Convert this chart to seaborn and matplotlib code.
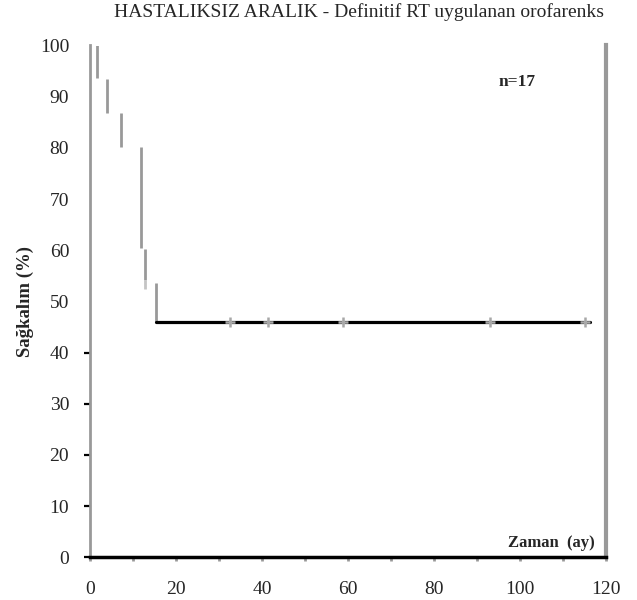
import matplotlib
matplotlib.use("Agg")
import matplotlib.pyplot as plt
import seaborn as sns
import pandas as pd

# ---- data ----
title = "HASTALIKSIZ ARALIK - Definitif RT uygulanan orofarenks"
ylabel = "Sağkalım (%)"
xlabel = "Zaman  (ay)"
n_label = "n=17"

drop_time = [1.6, 4.0, 7.3, 11.9, 12.8, 15.3]
drop_top = [100.0, 93.5, 86.8, 80.2, 60.2, 53.6]
drop_bottom = [93.6, 86.9, 80.2, 60.4, 54.2, 46.0]

tick_time = [12.8]
tick_top = [54.2]
tick_bottom = [52.4]

plateau_time = [15.3, 116.3]
plateau_surv = [46.0, 46.0]

censor_time = [32.6, 41.3, 58.8, 93.0, 115.1]
censor_surv = [46.0, 46.0, 46.0, 46.0, 46.0]

x_ticks = [0, 10, 20, 30, 40, 50, 60, 70, 80, 90, 100, 110, 120]
x_ticklabels = ["0", "", "20", "", "40", "", "60", "", "80", "", "100", "", "120"]
y_ticks = [0, 10, 20, 30, 40, 50, 60, 70, 80, 90, 100]
y_ticklabels = ["0", "10", "20", "30", "40", "50", "60", "70", "80", "90", "100"]

# ---- style ----
sns.set_theme(style="white")
plt.rcParams["font.family"] = ["Liberation Serif", "DejaVu Serif"]

GRAY = "#999999"

fig = plt.figure(figsize=(6.37, 6.0), dpi=100)
ax = fig.add_axes([90 / 637, 42.7 / 600, 516 / 637, 511.8 / 600])

# vertical drops
ax.vlines(drop_time, drop_bottom, drop_top, colors=GRAY, linewidth=2.0, zorder=3)
ax.vlines(tick_time, tick_bottom, tick_top, colors="#c4c4c4", linewidth=2.0, zorder=3)

# plateau
plateau = pd.DataFrame({"t": plateau_time, "s": plateau_surv})
sns.lineplot(data=plateau, x="t", y="s", ax=ax, color="black", linewidth=2.3, zorder=4)

# censored marks
cens = pd.DataFrame({"t": censor_time, "s": censor_surv})
sns.scatterplot(data=cens, x="t", y="s", ax=ax, marker="+", s=60, color="#a8a8a8",
                linewidth=1.8, zorder=5)

ax.set_xlim(0, 120)
ax.set_ylim(0, 100)
ax.set_xticks(x_ticks)
ax.set_xticklabels(x_ticklabels, fontsize=14)
ax.set_yticks(y_ticks)
ax.set_yticklabels(y_ticklabels, fontsize=14)
ax.set_xlabel("")
ax.set_ylabel(ylabel, fontsize=13.5, fontweight="bold", labelpad=4)

ax.tick_params(axis="x", direction="out", length=3, width=2, color=GRAY, pad=14, bottom=True)
ax.tick_params(axis="y", direction="out", length=4, width=1.6, color="black", pad=11, left=True)
for val, t in zip(y_ticks, ax.yaxis.get_major_ticks()):
    t.tick1line.set_visible(val <= 40)

ax.spines["top"].set_visible(False)
ax.spines["left"].set_color(GRAY)
ax.spines["left"].set_linewidth(2.0)
ax.spines["right"].set_color(GRAY)
ax.spines["right"].set_linewidth(3.0)
ax.spines["bottom"].set_color("black")
ax.spines["bottom"].set_linewidth(2.5)
ax.spines["bottom"].set_zorder(6)

ax.text(99.3, 92.9, n_label, ha="center", va="center", fontsize=12.5, fontweight="bold")
ax.text(117.4, 2.8, xlabel, ha="right", va="center", fontsize=12, fontweight="bold")

fig.text(359 / 637, 1 - 12.5 / 600, title, ha="center", va="center", fontsize=14)

fig.savefig("out.png", dpi=100, facecolor="white")
